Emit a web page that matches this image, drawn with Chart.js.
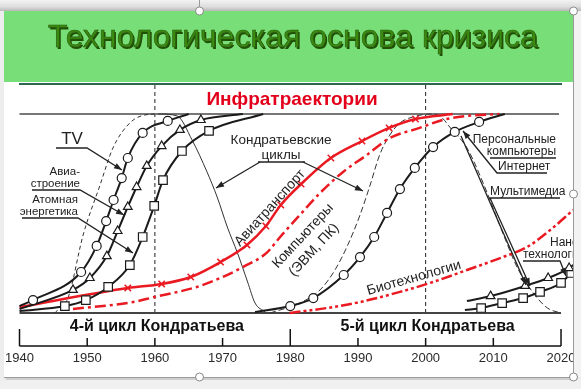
<!DOCTYPE html>
<html>
<head>
<meta charset="utf-8">
<script src="https://cdn.jsdelivr.net/npm/chart.js@4.4.1/dist/chart.umd.min.js"></script>
<style>
html, body { margin: 0; padding: 0; background: #ececec; overflow: hidden; }
canvas { display: block; }
</style>
</head>
<body>
<canvas id="myChart" width="581" height="389"></canvas>
<script>
// годы оси и циклы
var axisYears = [1940, 1950, 1960, 1970, 1980, 1990, 2000, 2010, 2020];
var cycleBounds = [1940, 1980, 2020];
var cycleLabels = ['4-й цикл Кондратьева', '5-й цикл Кондратьева'];
var dividerYears = [1960, 2000];

// 4-й цикл (TV, авиастроение, атомная энергетика)
var tvYears = [1940, 1942.0, 1949.1, 1951.4, 1952.8, 1953.9, 1955.1, 1956.0, 1958.2, 1961.9, 1965];
var tvValues = [0.035, 0.065, 0.206, 0.337, 0.462, 0.568, 0.678, 0.779, 0.905, 0.965, 1.0];

var aviaYears = [1940, 1947.9, 1950.4, 1952.9, 1954.5, 1956.0, 1957.3, 1958.8, 1961.0, 1963.7, 1966.8, 1973];
var aviaValues = [0.02, 0.116, 0.176, 0.286, 0.412, 0.533, 0.633, 0.739, 0.839, 0.920, 0.970, 1.0];

var atomYears = [1940, 1946.7, 1949.8, 1953.1, 1956.3, 1958.2, 1959.9, 1961.2, 1964.0, 1968.0, 1976];
var atomValues = [0.01, 0.035, 0.065, 0.131, 0.241, 0.382, 0.538, 0.668, 0.814, 0.915, 1.0];

// инфратраектории (красные)
var transportYears = [1940, 1956.0, 1961.0, 1965.3, 1969.7, 1973.6, 1976.4, 1978.6, 1981.6, 1986.0, 1990.6, 1994.6, 1998.5, 2004];
var transportValues = [0.03, 0.126, 0.146, 0.181, 0.256, 0.342, 0.437, 0.543, 0.648, 0.779, 0.864, 0.930, 0.975, 1.0];

var computerYears = [1947.9, 1956.8, 1959.9, 1966.2, 1970.0, 1973.0, 1976.5, 1978.5, 1981.4, 1984.4, 1987.8, 1991.3, 1994.7, 1999.1, 2002.5, 2006.0, 2010.9];
var computerValues = [0.02, 0.055, 0.08, 0.131, 0.181, 0.231, 0.302, 0.382, 0.492, 0.603, 0.709, 0.794, 0.879, 0.930, 0.970, 0.990, 1.0];

var bioYears = [1979.9, 1985.4, 1990.3, 1996.2, 2001.1, 2006.1, 2011.0, 2015.0, 2018.4, 2021.8];
var bioValues = [0.0, 0.025, 0.055, 0.106, 0.156, 0.216, 0.276, 0.332, 0.417, 0.518];

// 5-й цикл
var pcYears = [1974.8, 1980.0, 1983.4, 1987.9, 1990.3, 1992.4, 1994.3, 1996.2, 1998.4, 2001.1, 2004.3, 2007.9, 2011.7];
var pcValues = [0.005, 0.035, 0.075, 0.191, 0.281, 0.382, 0.503, 0.623, 0.729, 0.834, 0.910, 0.960, 1.0];

var nanoTriYears = [2006.1, 2009.6, 2014.7, 2018.1, 2021.2, 2024];
var nanoTriValues = [0.06, 0.085, 0.136, 0.176, 0.226, 0.30];

var nanoSqYears = [2005.8, 2008.2, 2011.3, 2014.4, 2016.9, 2020.0, 2021.5, 2024];
var nanoSqValues = [0.015, 0.025, 0.05, 0.075, 0.106, 0.151, 0.201, 0.27];

// кондратьевские циклы
var wave4Years = [1945.2, 1947.2, 1949.4, 1951.9, 1953.8, 1956.3, 1958.5, 1960.7, 1963.3, 1965.5, 1967.7, 1969.2, 1970.7, 1972.2, 1973.7, 1974.8, 1976.3];
var wave4Values = [0.0, 0.08, 0.392, 0.643, 0.829, 0.955, 0.995, 1.0, 0.99, 0.869, 0.709, 0.583, 0.432, 0.302, 0.156, 0.05, 0.005];

var wave5Years = [1977.0, 1981.4, 1984.4, 1986.6, 1988.5, 1990.3, 1991.8, 1993.2, 1994.7, 1996.2, 1998.1, 2000.7, 2002.1, 2003.9, 2006.1, 2008.5, 2011.4, 2013.5, 2015.9, 2018.0, 2019.9];
var wave5Values = [0.0, 0.05, 0.116, 0.216, 0.342, 0.492, 0.643, 0.794, 0.894, 0.955, 0.985, 1.0, 0.99, 0.92, 0.83, 0.653, 0.402, 0.231, 0.101, 0.025, 0.0];

var RED = '#ea1a22';
var INK = '#1b1b1b';
var FONT = '"Liberation Sans", Arial, sans-serif';

function points(xs, ys) {
    return xs.map(function (x, i) { return { x: x, y: ys[i] }; });
}

// маркер на всех точках кроме крайних
function innerRadius(r) {
    return function (c) {
        var n = c.dataset.data.length;
        return (c.dataIndex === 0 || c.dataIndex === n - 1) ? 0 : r;
    };
}

function blackSeries(label, xs, ys, style, r) {
    return {
        label: label,
        data: points(xs, ys),
        borderColor: INK,
        borderWidth: 2,
        pointStyle: style,
        pointRadius: innerRadius(r),
        pointBackgroundColor: '#fff',
        pointBorderColor: INK,
        pointBorderWidth: 1.2,
        cubicInterpolationMode: 'monotone'
    };
}

var datasets = [
    blackSeries('TV', tvYears, tvValues, 'circle', 4.5),
    blackSeries('Авиастроение', aviaYears, aviaValues, 'triangle', 5),
    blackSeries('Атомная энергетика', atomYears, atomValues, 'rect', 6),
    blackSeries('Персональные компьютеры', pcYears, pcValues, 'circle', 4.5),
    blackSeries('Нанотехнологии 1', nanoTriYears, nanoTriValues, 'triangle', 5),
    blackSeries('Нанотехнологии 2', nanoSqYears, nanoSqValues, 'rect', 6),
    {
        label: 'Авиатранспорт',
        data: points(transportYears, transportValues),
        borderColor: RED, borderWidth: 2.5,
        pointStyle: 'crossRot', pointRadius: innerRadius(4.5),
        pointBorderColor: RED, pointBorderWidth: 1.5,
        cubicInterpolationMode: 'monotone'
    },
    {
        label: 'Компьютеры',
        data: points(computerYears, computerValues),
        borderColor: RED, borderWidth: 2.5, borderDash: [11, 4, 3, 4],
        pointRadius: 0, cubicInterpolationMode: 'monotone'
    },
    {
        label: 'Биотехнологии',
        data: points(bioYears, bioValues),
        borderColor: RED, borderWidth: 2.5, borderDash: [11, 3, 3, 3, 3, 3],
        pointRadius: 0, cubicInterpolationMode: 'monotone'
    },
    {
        label: 'Цикл 4',
        data: points(wave4Years, wave4Values),
        borderColor: '#333', borderWidth: 1,
        pointRadius: 0, cubicInterpolationMode: 'monotone',
        segment: { borderDash: function (c) { return c.p0.parsed.x < 1960 ? [4, 3] : undefined; } }
    },
    {
        label: 'Цикл 5',
        data: points(wave5Years, wave5Values),
        borderColor: '#333', borderWidth: 1, borderDash: [6, 3],
        pointRadius: 0, cubicInterpolationMode: 'monotone'
    }
];

function arrow(ctx, pts) {
    ctx.beginPath();
    ctx.moveTo(pts[0][0], pts[0][1]);
    for (var i = 1; i < pts.length; i++) ctx.lineTo(pts[i][0], pts[i][1]);
    ctx.stroke();
    var a = pts[pts.length - 2], b = pts[pts.length - 1];
    var ang = Math.atan2(b[1] - a[1], b[0] - a[0]);
    ctx.beginPath();
    ctx.moveTo(b[0], b[1]);
    ctx.lineTo(b[0] - 8 * Math.cos(ang) + 3 * Math.sin(ang), b[1] - 8 * Math.sin(ang) - 3 * Math.cos(ang));
    ctx.lineTo(b[0] - 8 * Math.cos(ang) - 3 * Math.sin(ang), b[1] - 8 * Math.sin(ang) + 3 * Math.cos(ang));
    ctx.closePath();
    ctx.fill();
}

function line(ctx, x1, y1, x2, y2) {
    ctx.beginPath(); ctx.moveTo(x1, y1); ctx.lineTo(x2, y2); ctx.stroke();
}

function rotText(ctx, txt, x, y, deg) {
    ctx.save();
    ctx.translate(x, y);
    ctx.rotate(deg * Math.PI / 180);
    ctx.fillText(txt, 0, 0);
    ctx.restore();
}

var slidePlugin = {
    id: 'slide',
    beforeDraw: function (chart) {
        var ctx = chart.ctx;
        ctx.save();
        ctx.fillStyle = '#ededed';
        ctx.fillRect(0, 0, 581, 389);
        var g = ctx.createLinearGradient(0, 0, 0, 11);
        g.addColorStop(0, '#f3f3f3');
        g.addColorStop(0.6, '#dedede');
        g.addColorStop(1, '#b9b9b9');
        ctx.fillStyle = g;
        ctx.fillRect(0, 0, 581, 11);
        // тень слайда
        ctx.fillStyle = '#cfcfcf';
        ctx.fillRect(6, 377, 569, 3);
        ctx.fillStyle = '#fff';
        ctx.fillRect(4, 11, 569, 366);
        // зелёная плашка
        ctx.fillStyle = '#78de78';
        ctx.fillRect(4, 11, 569, 71);
        ctx.font = '32px ' + FONT;
        ctx.textAlign = 'center';
        ctx.textBaseline = 'alphabetic';
        ctx.fillStyle = '#214f06';
        ctx.fillText('Технологическая основа кризиса', 294.5, 48.5);
        ctx.fillStyle = '#3a8a10';
        ctx.fillText('Технологическая основа кризиса', 293, 47);
        ctx.strokeStyle = '#2a5a12';
        ctx.lineWidth = 0.6;
        ctx.strokeText('Технологическая основа кризиса', 293, 47);
        ctx.strokeStyle = '#2f6650';
        ctx.lineWidth = 2;
        line(ctx, 19, 84, 562, 84);

        ctx.font = 'bold 19px ' + FONT;
        ctx.fillStyle = '#e3001b';
        ctx.textBaseline = 'middle';
        ctx.fillText('Инфратраектории', 292, 100);
        ctx.restore();
    },
    beforeDatasetsDraw: function (chart) {
        var ctx = chart.ctx, xs = chart.scales.x, ys = chart.scales.y;
        var x0 = xs.getPixelForValue(axisYears[0]);
        var x1 = xs.getPixelForValue(axisYears[axisYears.length - 1]);
        ctx.save();
        ctx.lineWidth = 1;
        ctx.strokeStyle = '#222';
        ctx.setLineDash([4, 3]);
        dividerYears.forEach(function (yr) {
            var px = xs.getPixelForValue(yr);
            line(ctx, px, 85, px, ys.getPixelForValue(0));
        });
        ctx.setLineDash([]);
        ctx.lineWidth = 2;
        ctx.strokeStyle = '#777';
        line(ctx, x0, ys.getPixelForValue(1), x1 - 2, ys.getPixelForValue(1));
        ctx.strokeStyle = '#444';
        line(ctx, x0, ys.getPixelForValue(0), x1, ys.getPixelForValue(0));
        ctx.restore();
    },
    afterDatasetsDraw: function (chart) {
        var ctx = chart.ctx, xs = chart.scales.x;
        ctx.save();
        // ось годов
        var axisY = chart.chartArea.bottom;
        ctx.strokeStyle = '#111';
        ctx.lineWidth = 1.5;
        line(ctx, xs.getPixelForValue(axisYears[0]), axisY, xs.getPixelForValue(axisYears[axisYears.length - 1]), axisY);
        axisYears.forEach(function (yr) {
            var px = xs.getPixelForValue(yr);
            var top = cycleBounds.indexOf(yr) >= 0 ? 329 : 338;
            line(ctx, px, top, px, axisY);
        });
        ctx.fillStyle = '#2a2a2a';
        ctx.font = '13px ' + FONT;
        ctx.textAlign = 'center';
        ctx.textBaseline = 'middle';
        axisYears.forEach(function (yr) {
            ctx.fillText(String(yr), xs.getPixelForValue(yr), 358);
        });
        ctx.font = 'bold 16px ' + FONT;
        ctx.fillStyle = '#111';
        cycleLabels.forEach(function (t, i) {
            var mid = (cycleBounds[i] + cycleBounds[i + 1]) / 2;
            ctx.fillText(t, xs.getPixelForValue(mid) + 2, 327);
        });

        // подписи кривых
        ctx.strokeStyle = '#222';
        ctx.fillStyle = '#222';
        ctx.lineWidth = 1.3;
        ctx.font = '17px ' + FONT;
        ctx.fillText('TV', 72, 139);
        arrow(ctx, [[56, 148], [87, 148], [122, 170]]);

        ctx.font = '11.5px ' + FONT;
        ctx.textAlign = 'right';
        ctx.fillText('Авиа-', 80, 172);
        ctx.fillText('строение', 80, 184);
        arrow(ctx, [[32, 190], [80, 190], [124, 215]]);
        ctx.fillText('Атомная', 78, 200);
        ctx.fillText('энергетика', 78, 212);
        arrow(ctx, [[22, 218], [78, 218], [133, 253]]);

        ctx.textAlign = 'center';
        ctx.font = '13.5px ' + FONT;
        ctx.fillText('Кондратьевские', 281, 140);
        ctx.fillText('циклы', 281, 155);
        line(ctx, 258, 162, 305, 162);
        arrow(ctx, [[260, 162], [216, 188]]);
        arrow(ctx, [[303, 162], [363, 191]]);

        ctx.font = '14px ' + FONT;
        rotText(ctx, 'Авиатранспорт', 270, 208, -48);
        rotText(ctx, 'Компьютеры', 303, 236, -47);
        rotText(ctx, '(ЭВМ, ПК)', 314, 250, -47);
        rotText(ctx, 'Биотехнологии', 414, 278, -16);

        ctx.font = '12px ' + FONT;
        ctx.textAlign = 'right';
        ctx.fillText('Персональные', 556, 140);
        ctx.fillText('компьютеры', 556, 152);
        line(ctx, 490, 158, 556, 158);
        ctx.textAlign = 'left';
        ctx.fillText('Интернет', 498, 167);
        arrow(ctx, [[547, 173], [497, 173], [463, 131]]);
        ctx.fillText('Мультимедиа', 490, 192);
        arrow(ctx, [[560, 198], [490, 198], [530, 286]]);
        arrow(ctx, [[461, 136], [526, 285]]);
        ctx.fillText('Нано', 550, 243);
        ctx.fillText('технологии', 523, 255);
        arrow(ctx, [[523, 261], [560, 261], [566, 276]]);
        ctx.restore();
    },
    afterDraw: function (chart) {
        var ctx = chart.ctx;
        ctx.save();
        // поля вне слайда поверх обрезанного текста
        ctx.fillStyle = '#f3f3f3';
        ctx.fillRect(573, 11, 8, 366);
        ctx.fillStyle = '#f0f0f0';
        ctx.fillRect(0, 380, 581, 9);
        ctx.strokeStyle = '#9a9a9a';
        ctx.lineWidth = 1;
        line(ctx, 573.5, 11, 573.5, 377);
        line(ctx, 4, 377.5, 573, 377.5);
        line(ctx, 199.5, 0, 199.5, 7);
        [[199.5, 11], [573.5, 11], [573.5, 194], [199.5, 377], [573.5, 377]].forEach(function (p) {
            ctx.beginPath();
            ctx.arc(p[0], p[1], 4, 0, Math.PI * 2);
            ctx.fillStyle = '#fff';
            ctx.fill();
            ctx.strokeStyle = '#888';
            ctx.stroke();
        });
        ctx.restore();
    }
};

var ctx = document.getElementById('myChart').getContext('2d');
var myChart = new Chart(ctx, {
    type: 'line',
    data: { datasets: datasets },
    options: {
        responsive: false,
        animation: false,
        layout: { padding: { left: 4, right: 8, top: 100, bottom: 43 } },
        plugins: { legend: { display: false }, tooltip: { enabled: false } },
        scales: {
            x: { type: 'linear', min: 1937.71, max: 2021.77, display: false },
            y: { min: -0.1658, max: 1.0704, display: false }
        }
    },
    plugins: [slidePlugin]
});
</script>
</body>
</html>
